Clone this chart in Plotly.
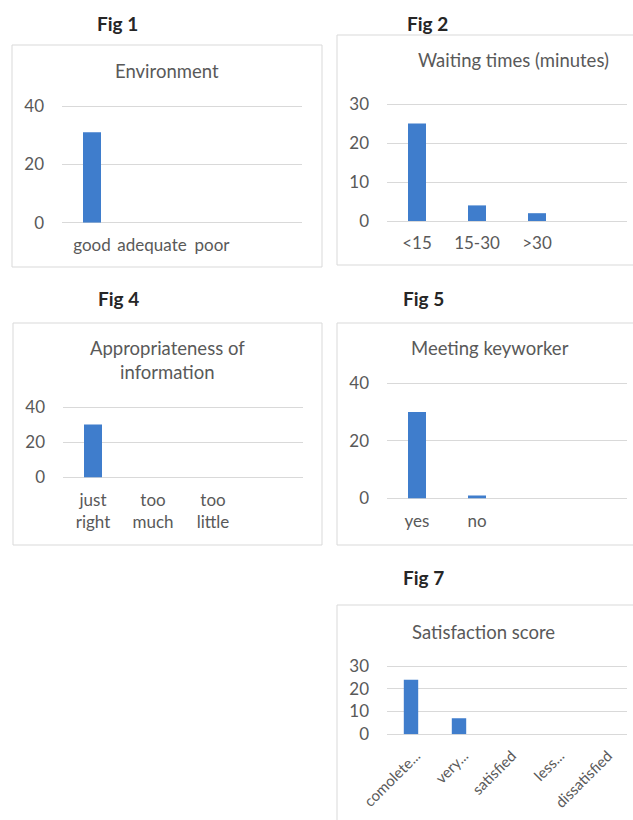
import plotly.graph_objects as go

W, H = 633, 820

# --- survey results -------------------------------------------------------
env_cats = ["good", "adequate", "poor"]
env_vals = [31, 0, 0]

wait_cats = ["<15", "15-30", ">30"]
wait_vals = [25, 4, 2]

info_cats = ["just<br>right", "too<br>much", "too<br>little"]
info_vals = [30, 0, 0]

key_cats = ["yes", "no"]
key_vals = [30, 1]

sat_cats = ["comolete...", "very...", "satisfied", "less...", "dissatisfied"]
sat_vals = [24, 7, 0, 0, 0]

BAR = "#3f7dcc"
GRID = "#d9d9d9"
TXT = "#595959"
FONT = "Lato, 'Open Sans', sans-serif"


def px_x(p):
    return p / W


def px_y(p):
    return 1 - p / H


# each panel: (cats, vals, x-domain px, y-domain px (top, bottom), ymax, dtick, slots, tick font size, tickangle)
panels = [
    (env_cats, env_vals, (62, 302), (106, 222.7), 40, 20, 4, 17, 0),
    (wait_cats, wait_vals, (387, 627), (104, 221), 30, 10, 4, 17, 0),
    (info_cats, info_vals, (63, 303), (407, 477.5), 40, 20, 4, 17, 0),
    (key_cats, key_vals, (387, 627), (383.3, 498.5), 40, 20, 4, 17, 0),
    (sat_cats, sat_vals, (387, 627), (666, 734.3), 30, 10, 5, 15, -45),
]

PAD = 4  # px of headroom so the top gridline is not clipped

fig = go.Figure()
layout = dict(
    width=W, height=H, autosize=False,
    margin=dict(l=0, r=0, t=0, b=0, pad=0, autoexpand=False),
    paper_bgcolor="white", plot_bgcolor="white",
    showlegend=False, bargap=0.7,
    font=dict(family=FONT, color=TXT),
)

for i, (cats, vals, xd, yd, ymax, dt, slots, tfs, tang) in enumerate(panels, start=1):
    suf = "" if i == 1 else str(i)
    per_px = ymax / (yd[1] - yd[0])
    fig.add_trace(go.Bar(
        x=cats, y=vals, marker=dict(color=BAR, line=dict(width=0)),
        xaxis="x" + suf, yaxis="y" + suf, hoverinfo="x+y",
    ))
    layout["xaxis" + suf] = dict(
        domain=[px_x(xd[0]), px_x(xd[1])], anchor="y" + suf,
        type="category", range=[-0.5, slots - 0.5],
        showgrid=False, zeroline=False, showline=False, ticks="",
        tickangle=tang, ticklabelstandoff=10 if tang == 0 else 9,
        ticklabelshift=0 if tang == 0 else 5,
        tickfont=dict(size=tfs, color=TXT, family=FONT),
        automargin=False, fixedrange=True,
    )
    layout["yaxis" + suf] = dict(
        domain=[px_y(yd[1]), px_y(yd[0] - PAD)], anchor="x" + suf,
        range=[0, ymax + PAD * per_px], dtick=dt, tick0=0,
        showgrid=True, gridcolor=GRID, gridwidth=1,
        zeroline=True, zerolinecolor=GRID, zerolinewidth=1,
        showline=False, ticks="", ticklabelstandoff=17,
        tickfont=dict(size=17, color=TXT, family=FONT),
        automargin=False, fixedrange=True,
    )

# panel frames
frames = [(12, 45, 322, 267), (337, 35, 645, 265), (13, 323, 322, 545),
          (337, 323, 645, 545), (337, 605, 645, 840)]
shapes = []
for x0, y0, x1, y1 in frames:
    shapes.append(dict(type="rect", xref="paper", yref="paper",
                       x0=px_x(x0), x1=px_x(x1), y0=px_y(y1), y1=px_y(y0),
                       line=dict(color=GRID, width=1), layer="below"))
layout["shapes"] = shapes

annotations = []
for text, x, y in [("Fig 1", 117, 23), ("Fig 2", 427, 23), ("Fig 4", 118, 298),
                   ("Fig 5", 423, 298), ("Fig 7", 423, 577)]:
    annotations.append(dict(text="<b>" + text + "</b>", x=px_x(x), y=px_y(y),
                            xref="paper", yref="paper", showarrow=False,
                            xanchor="center", yanchor="middle",
                            font=dict(size=19, color="#262626", family=FONT)))
for text, x, y in [("Environment", 167, 71), ("Waiting times (minutes)", 513, 60),
                   ("Appropriateness of<br>information", 167, 360),
                   ("Meeting keyworker", 490, 348), ("Satisfaction score", 483, 632)]:
    annotations.append(dict(text=text, x=px_x(x), y=px_y(y),
                            xref="paper", yref="paper", showarrow=False,
                            xanchor="center", yanchor="middle",
                            font=dict(size=18.5, color=TXT, family=FONT)))
layout["annotations"] = annotations

fig.update_layout(**layout)
fig.write_html("out.html")
